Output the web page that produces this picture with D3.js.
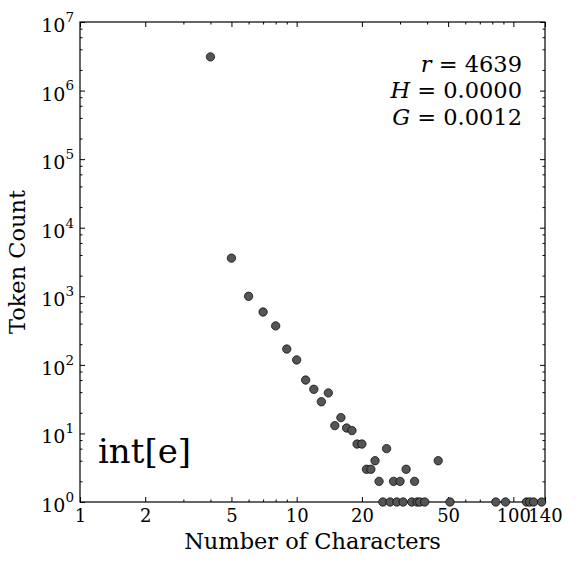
<!DOCTYPE html>
<html>
<head>
<meta charset="utf-8">
<script src="https://cdn.jsdelivr.net/npm/d3@7"></script>
<style>
  body { margin: 0; background: #fff; }
  svg { font-family: "DejaVu Serif", serif; }
</style>
</head>
<body>
<svg id="chart" width="583" height="564"></svg>
<script>
// character length of the token vs how many tokens have it
const charCounts  = [4, 5, 6, 7, 8, 9, 10, 11, 12, 13, 14, 15, 16, 17, 18, 19, 20,
                     21, 22, 23, 24, 25, 26, 27, 28, 29, 30, 31, 32, 34, 35, 36, 37, 39,
                     45, 51, 83, 92, 115, 119, 124, 135];
const tokenCounts = [3100000, 3600, 1000, 590, 370, 170, 118, 60, 44, 29, 39, 13, 17, 12, 11, 7, 7,
                     3, 3, 4, 2, 1, 6, 1, 2, 1, 2, 1, 3, 1, 2, 1, 1, 1,
                     4, 1, 1, 1, 1, 1, 1, 1];

const xTicks = [1, 2, 5, 10, 20, 50, 100, 140];
const xMinorTicks = [3, 4, 6, 7, 8, 9, 30, 40, 60, 70, 80, 90];
const yExponents = [0, 1, 2, 3, 4, 5, 6, 7];
const yMinorMultipliers = [2, 4, 6, 8];

const statNames  = ["r", "H", "G"];
const statValues = ["= 4639", "= 0.0000", "= 0.0012"];
const panelLabel = "int[e]";

const svg = d3.select("#chart");
const width = 583, height = 564;
const m = { top: 22, right: 38, bottom: 62, left: 80 };
const right = width - m.right, bottom = height - m.bottom;

const x = d3.scaleLog().domain([1, 140]).range([m.left, right]);
const y = d3.scaleLog().domain([1, 1e7]).range([bottom, m.top]);

const yTicks = yExponents.map(e => Math.pow(10, e));
const yMinor = [];
yExponents.slice(0, -1).forEach(e => yMinorMultipliers.forEach(k => yMinor.push(k * Math.pow(10, e))));

function tidy(g){
  g.select(".domain").remove();
  g.selectAll("line").attr("stroke", "#000").attr("stroke-width", 1);
}

// major + minor ticks on all four sides, pointing inward
const major = 5, minor = 2.5;
svg.append("g").attr("transform", `translate(0,${bottom})`)
  .call(d3.axisBottom(x).tickValues(xMinorTicks).tickSize(-minor).tickFormat("")).call(tidy);
svg.append("g").attr("transform", `translate(0,${m.top})`)
  .call(d3.axisTop(x).tickValues(xMinorTicks).tickSize(-minor).tickFormat("")).call(tidy);
svg.append("g").attr("transform", `translate(0,${m.top})`)
  .call(d3.axisTop(x).tickValues(xTicks).tickSize(-major).tickFormat("")).call(tidy);
svg.append("g").attr("transform", `translate(${m.left},0)`)
  .call(d3.axisLeft(y).tickValues(yMinor).tickSize(-minor).tickFormat("")).call(tidy);
svg.append("g").attr("transform", `translate(${right},0)`)
  .call(d3.axisRight(y).tickValues(yMinor).tickSize(-minor).tickFormat("")).call(tidy);
svg.append("g").attr("transform", `translate(${right},0)`)
  .call(d3.axisRight(y).tickValues(yTicks).tickSize(-major).tickFormat("")).call(tidy);

const xAxis = svg.append("g").attr("transform", `translate(0,${bottom})`)
  .call(d3.axisBottom(x).tickValues(xTicks).tickSize(-major).tickPadding(7).tickFormat(d3.format("d")))
  .call(tidy);
xAxis.selectAll("text")
  .attr("fill", "#000").attr("font-size", "18px").attr("font-family", "DejaVu Serif")
  .attr("dy", "0.71em");

const yAxis = svg.append("g").attr("transform", `translate(${m.left},0)`)
  .call(d3.axisLeft(y).tickValues(yTicks).tickSize(-major).tickPadding(6).tickFormat(""))
  .call(tidy);
yAxis.selectAll(".tick text").each(function(d){
  const t = d3.select(this)
    .attr("fill", "#000").attr("font-size", "19px").attr("font-family", "DejaVu Serif")
    .attr("dy", "0.5em");
  t.append("tspan").text("10");
  t.append("tspan").attr("font-size", "13.5px").attr("dy", "-0.75em")
    .text(Math.round(Math.log10(d)));
});

// frame
svg.append("rect")
  .attr("x", m.left).attr("y", m.top)
  .attr("width", right - m.left).attr("height", bottom - m.top)
  .attr("fill", "none").attr("stroke", "#000").attr("stroke-width", 1.2);

// points
svg.append("g").selectAll("circle")
  .data(charCounts.map((c, i) => ({ c, n: tokenCounts[i] })))
  .join("circle")
  .attr("cx", d => x(d.c))
  .attr("cy", d => y(d.n))
  .attr("r", 4.2)
  .attr("fill", "#555")
  .attr("stroke", "#000")
  .attr("stroke-width", 0.7);

// axis titles
svg.append("text")
  .attr("x", (m.left + right) / 2).attr("y", 549)
  .attr("text-anchor", "middle").attr("font-size", "22.5px")
  .text("Number of Characters");

svg.append("text")
  .attr("transform", `translate(25,${(m.top + bottom) / 2}) rotate(-90)`)
  .attr("text-anchor", "middle").attr("font-size", "22.5px")
  .text("Token Count");

// stats block
const stats = svg.append("text")
  .attr("text-anchor", "end").attr("font-size", "22.5px");
statNames.forEach((s, i) => {
  const line = stats.append("tspan").attr("x", 522).attr("y", 72 + i * 26.3);
  line.append("tspan").attr("font-style", "italic").text(s);
  line.append("tspan").text(" " + statValues[i]);
});

svg.append("text")
  .attr("x", 98).attr("y", 463)
  .attr("font-size", "34px")
  .text(panelLabel);
</script>
</body>
</html>
